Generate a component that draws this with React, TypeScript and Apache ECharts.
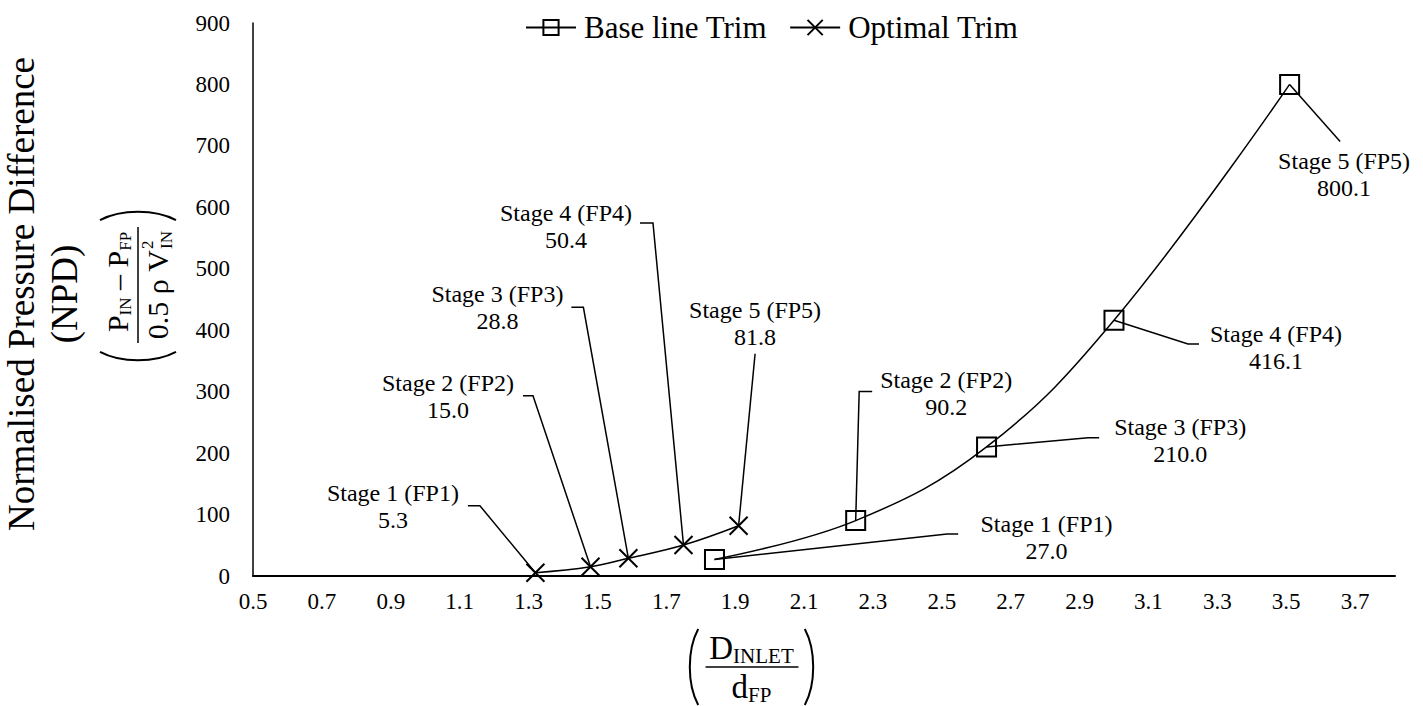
import React, { useEffect, useRef } from "react";
import * as echarts from "echarts";

// ---------- data ----------
const stageNames = ["Stage 1 (FP1)", "Stage 2 (FP2)", "Stage 3 (FP3)", "Stage 4 (FP4)", "Stage 5 (FP5)"];
const baseRatio = [1.84, 2.25, 2.63, 3.0, 3.51];
const baseNPD = [27.0, 90.2, 210.0, 416.1, 800.1];
const optRatio = [1.32, 1.48, 1.59, 1.75, 1.91];
const optNPD = [5.3, 15.0, 28.8, 50.4, 81.8];
const xTickLabels = ["0.5", "0.7", "0.9", "1.1", "1.3", "1.5", "1.7", "1.9", "2.1", "2.3", "2.5", "2.7", "2.9", "3.1", "3.3", "3.5", "3.7"];
const yTickLabels = ["0", "100", "200", "300", "400", "500", "600", "700", "800", "900"];

// ---------- annotation layout (pixel offsets from the point) ----------
// [elbowDx, elbowDy, endDx, labelDx, labelDy]
const optCallouts = [
  [-55.5, -67, -67.5, -142.5, -66],
  [-57.5, -171, -67.5, -142.5, -170],
  [-45, -251, -57, -131, -251],
  [-30.5, -322, -43.5, -117.5, -319],
  [16.5, -172, 16.5, 16.5, -202],
];
const baseCallouts = [
  [232.7, -25.5, 243.7, 332, -22],
  [3.5, -129, 16.5, 90.5, -127],
  [101.6, -9.2, 112.6, 193.6, -6.4],
  [74, 23.7, 85, 162, 27],
  [50.5, 57, 50.5, 54.5, 90],
];

const FONT = "Liberation Serif";

function calloutSeries(xs: number[], ys: number[], layout: number[][]) {
  return {
    type: "custom",
    coordinateSystem: "cartesian2d",
    silent: true,
    z: 5,
    data: xs.map((x, i) => [x, ys[i]]),
    encode: { x: 0, y: 1 },
    renderItem: (params: any, api: any) => {
      const i = params.dataIndex;
      const p = api.coord([api.value(0), api.value(1)]);
      const L = layout[i];
      return {
        type: "group",
        children: [
          {
            type: "polyline",
            shape: {
              points: [
                [p[0], p[1]],
                [p[0] + L[0], p[1] + L[1]],
                [p[0] + L[2], p[1] + L[1]],
              ],
            },
            style: { stroke: "#000", lineWidth: 1.5, fill: null },
          },
          {
            type: "text",
            x: p[0] + L[3],
            y: p[1] + L[4],
            style: {
              text: stageNames[i] + "\n" + (api.value(1) as number).toFixed(1),
              fill: "#000",
              fontSize: 24,
              fontFamily: FONT,
              align: "center",
              verticalAlign: "middle",
              lineHeight: 27,
            },
          },
        ],
      };
    },
  };
}

function paren(cx: number, cy: number, half: number, dir: number, bulge: number) {
  // dir = -1 for "(", +1 for ")"
  return {
    type: "bezierCurve",
    shape: {
      x1: cx - dir * bulge * 0.4,
      y1: cy - half,
      x2: cx - dir * bulge * 0.4,
      y2: cy + half,
      cpx1: cx + dir * bulge,
      cpy1: cy - half * 0.45,
      cpx2: cx + dir * bulge,
      cpy2: cy + half * 0.45,
    },
    style: { stroke: "#000", lineWidth: 2, fill: null },
  };
}

export default function App() {
  const ref = useRef<HTMLDivElement>(null);

  useEffect(() => {
    if (!ref.current) return;
    const chart = echarts.init(ref.current, null, { renderer: "svg" });

    const richScripts = (main: number, sub: number) => ({
      m: { fontSize: main, fontFamily: FONT, fill: "#000", lineHeight: main + 4, verticalAlign: "middle" },
      s: { fontSize: sub, fontFamily: FONT, fill: "#000", lineHeight: sub, verticalAlign: "bottom" },
    });

    const option: any = {
      animation: false,
      backgroundColor: "#fff",
      textStyle: { fontFamily: FONT, color: "#000" },
      grid: { left: 253, right: 28, top: 23, bottom: 130, containLabel: false },
      legend: {
        data: ["Base line Trim", "Optimal Trim"],
        left: 520,
        top: 7,
        itemWidth: 50,
        itemHeight: 19,
        itemGap: 22,
        textStyle: { fontSize: 31, fontFamily: FONT, color: "#000", padding: [0, 0, 0, 3] },
      },
      xAxis: {
        type: "value",
        min: 0.5,
        max: 3.816,
        interval: 0.2,
        axisLine: { show: true, lineStyle: { color: "#000", width: 2 } },
        axisTick: { show: false },
        splitLine: { show: false },
        axisLabel: {
          color: "#000",
          fontSize: 23,
          fontFamily: FONT,
          margin: 14,
          formatter: (v: number) => {
            const t = xTickLabels.find((s) => Math.abs(parseFloat(s) - v) < 1e-6);
            return t ?? "";
          },
        },
      },
      yAxis: {
        type: "value",
        min: 0,
        max: 900,
        interval: 100,
        axisLine: { show: true, lineStyle: { color: "#000", width: 1.5 } },
        axisTick: { show: false },
        splitLine: { show: false },
        axisLabel: {
          color: "#000",
          fontSize: 23,
          fontFamily: FONT,
          margin: 23,
          formatter: (v: number) => yTickLabels.find((s) => Math.abs(parseFloat(s) - v) < 1e-6) ?? "",
        },
      },
      series: [
        {
          name: "Base line Trim",
          type: "line",
          smooth: 0.4,
          color: "#000",
          data: baseRatio.map((x, i) => [x, baseNPD[i]]),
          symbol: "rect",
          symbolSize: 19,
          lineStyle: { color: "#000", width: 1.5 },
          itemStyle: { color: "rgba(0,0,0,0)", borderColor: "#000", borderWidth: 2 },
          z: 3,
        },
        {
          name: "Optimal Trim",
          type: "line",
          smooth: 0.4,
          color: "#000",
          data: optRatio.map((x, i) => [x, optNPD[i]]),
          symbol: "path://M0,0L20,20M20,0L0,20",
          symbolSize: 18,
          lineStyle: { color: "#000", width: 1.5 },
          itemStyle: { color: "rgba(0,0,0,0)", borderColor: "#000", borderWidth: 2 },
          z: 3,
        },
        calloutSeries(optRatio, optNPD, optCallouts),
        calloutSeries(baseRatio, baseNPD, baseCallouts),
      ],
      graphic: [
        {
          type: "text",
          x: 43,
          y: 294,
          rotation: Math.PI / 2,
          style: {
            text: "Normalised Pressure Difference\n(NPD)",
            fontSize: 37,
            lineHeight: 43,
            fontFamily: FONT,
            fill: "#000",
            align: "center",
            verticalAlign: "middle",
          },
        },
        {
          type: "group",
          x: 138,
          y: 286,
          rotation: Math.PI / 2,
          children: [
            {
              type: "text",
              x: 4,
              y: -21,
              style: {
                text: "{m|P}{s|IN}{m| – P}{s|FP}",
                rich: richScripts(30, 17),
                align: "center",
                verticalAlign: "middle",
              },
            },
            { type: "line", shape: { x1: -57, y1: 0, x2: 59, y2: 0 }, style: { stroke: "#000", lineWidth: 1.5 } },
            {
              type: "text",
              x: 36,
              y: 19,
              style: { text: "0.5 ρ V", fontSize: 30, fontFamily: FONT, fill: "#000", align: "right", verticalAlign: "middle" },
            },
            {
              type: "text",
              x: 37,
              y: 9,
              style: { text: "2", fontSize: 17, fontFamily: FONT, fill: "#000", align: "left", verticalAlign: "middle" },
            },
            {
              type: "text",
              x: 37,
              y: 28,
              style: { text: "IN", fontSize: 17, fontFamily: FONT, fill: "#000", align: "left", verticalAlign: "middle" },
            },
            paren(-69, 0, 38, -1, 8),
            paren(69, 0, 38, 1, 8),
          ],
        },
        {
          type: "group",
          x: 751.5,
          y: 667,
          children: [
            {
              type: "text",
              x: 0,
              y: -19,
              style: {
                text: "{m|D}{s|INLET}",
                rich: richScripts(33, 21),
                align: "center",
                verticalAlign: "middle",
              },
            },
            { type: "line", shape: { x1: -46, y1: 0, x2: 47, y2: 0 }, style: { stroke: "#000", lineWidth: 1.5 } },
            {
              type: "text",
              x: 0,
              y: 20,
              style: {
                text: "{m|d}{s|FP}",
                rich: richScripts(33, 21),
                align: "center",
                verticalAlign: "middle",
              },
            },
            paren(-56.5, 0, 38, -1, 8),
            paren(56.5, 0, 38, 1, 8),
          ],
        },
      ],
    };

    chart.setOption(option);
    return () => chart.dispose();
  }, []);

  return <div ref={ref} style={{ position: "fixed", left: 0, top: 0, width: 1423, height: 706 }} />;
}
